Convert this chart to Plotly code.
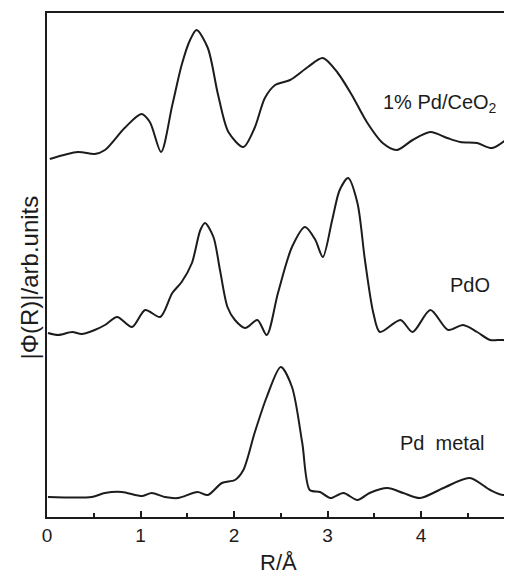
"""EXAFS Fourier transform magnitudes for Pd samples."""

import plotly.graph_objects as go

# 1% Pd/CeO2 (top trace)
r_ceo2 = [0.03, 0.33, 0.51, 0.62, 0.83, 1.01, 1.10, 1.22, 1.34, 1.44, 1.53,
          1.60, 1.72, 1.83, 1.94, 2.10, 2.22, 2.33, 2.44, 2.60, 2.79, 2.95,
          3.11, 3.26, 3.42, 3.59, 3.74, 3.91, 4.10, 4.28, 4.42, 4.60, 4.76,
          4.97]
y_ceo2 = [358, 365, 363, 367, 389, 403, 395, 365, 412, 452, 477,
          487, 469, 422, 385, 370, 389, 419, 432, 437, 450, 459,
          444, 422, 395, 374, 367, 377, 385, 379, 375, 374, 369,
          382]

# PdO (middle trace)
r_pdo = [0.01, 0.12, 0.27, 0.37, 0.51, 0.62, 0.75, 0.91, 1.05, 1.21, 1.34,
         1.44, 1.55, 1.64, 1.69, 1.78, 1.85, 1.93, 2.01, 2.12, 2.25, 2.35,
         2.47, 2.62, 2.76, 2.87, 2.95, 3.05, 3.13, 3.22, 3.32, 3.40, 3.49,
         3.56, 3.78, 3.91, 4.10, 4.29, 4.45, 4.60, 4.74, 4.88, 4.97]
y_pdo = [184, 182, 185, 183, 187, 192, 200, 190, 207, 200, 224,
         235, 254, 287, 294, 280, 247, 210, 197, 189, 197, 182,
         224, 270, 290, 277, 260, 297, 327, 339, 314, 257, 204,
         185, 197, 185, 207, 187, 192, 185, 177, 177, 174]

# Pd metal (bottom trace)
r_pd = [0.01, 0.48, 0.62, 0.80, 1.02, 1.12, 1.26, 1.40, 1.61, 1.72, 1.87,
        2.01, 2.10, 2.22, 2.35, 2.50, 2.62, 2.73, 2.81, 2.92, 3.03, 3.17,
        3.32, 3.45, 3.64, 3.81, 3.99, 4.24, 4.52, 4.74, 4.88, 4.97]
y_pd = [20, 20, 24, 25, 21, 24, 20, 19, 25, 22, 34,
        37, 47, 84, 120, 150, 130, 74, 27, 25, 19, 24,
        17, 24, 29, 24, 19, 29, 39, 27, 22, 25]

labels = ["1% Pd/CeO<sub>2</sub>", "PdO", "Pd\u00a0\u00a0metal"]
label_r = [4.20, 4.52, 4.22]
label_y = [414, 232, 74]

FONT = "Liberation Sans"
INK = "#1c1c1c"

fig = go.Figure()
for r, y in [(r_ceo2, y_ceo2), (r_pdo, y_pdo), (r_pd, y_pd)]:
    fig.add_trace(
        go.Scatter(
            x=r, y=y, mode="lines",
            line=dict(color=INK, width=2, shape="spline", smoothing=0.8),
            showlegend=False, hoverinfo="skip",
        )
    )

for text, r, y in zip(labels, label_r, label_y):
    fig.add_annotation(
        x=r, y=y, text=text, showarrow=False,
        xanchor="center", yanchor="middle",
        font=dict(family=FONT, size=20, color=INK),
    )

# axis titles
fig.add_annotation(
    xref="paper", yref="paper", x=-0.037, y=0.475,
    xanchor="center", yanchor="middle",
    text="|Φ(R)|/arb.units", textangle=-90, showarrow=False,
    font=dict(family=FONT, size=24, color=INK),
)
fig.add_annotation(
    xref="paper", yref="paper", x=0.497, y=-0.091,
    xanchor="center", yanchor="middle",
    text="R/Å", showarrow=False,
    font=dict(family=FONT, size=22, color=INK),
)

# page body adds an 8px offset, so the figure is a bit smaller than the window
fig.update_layout(
    width=504, height=571,
    margin=dict(l=39, r=0, t=5, b=62),
    paper_bgcolor="white", plot_bgcolor="white",
    xaxis=dict(
        range=[0, 4.973], tickmode="linear", tick0=0, dtick=1,
        ticks="inside", ticklen=6, tickwidth=1.5, tickcolor=INK,
        minor=dict(dtick=0.5, ticks="inside", ticklen=4, tickcolor=INK),
        showline=True, linecolor=INK, linewidth=2, mirror=True,
        showgrid=False, zeroline=False,
        tickfont=dict(family=FONT, size=19, color=INK),
    ),
    yaxis=dict(
        range=[0, 504], showticklabels=False, ticks="",
        showline=True, linecolor=INK, linewidth=2,
        showgrid=False, zeroline=False,
    ),
)

fig.write_html("out.html")
